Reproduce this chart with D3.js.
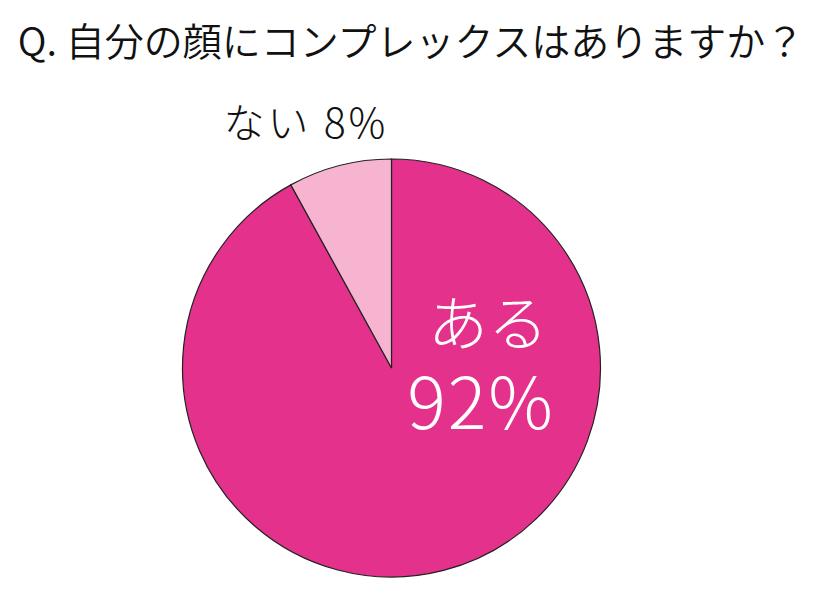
<!DOCTYPE html>
<html><head><meta charset="utf-8">
<script src="https://cdn.jsdelivr.net/npm/d3@7"></script>
<style>html,body{margin:0;padding:0;background:#fff;}</style>
</head><body>
<svg id="c" width="826" height="597"></svg>
<script>
const title = "Q. 自分の顔にコンプレックスはありますか？";
const categories = ["ある", "ない"];
const values = [92, 8];
const colors = ["#e4318b", "#f6b4d1"];

const svg = d3.select("#c");
const font = "'Noto Sans CJK JP', 'Noto Sans', sans-serif";
const cx = 391.5, cy = 368, r = 209;

svg.append("text").attr("x", 411).attr("y", 56).attr("text-anchor", "middle")
  .attr("font-family", font).attr("font-size", 39).attr("font-weight", 350)
  .attr("fill", "#111").text(title);

const data = categories.map((c, i) => ({cat: c, val: values[i], color: colors[i]}));
const pie = d3.pie().value(d => d.val).sort(null);
const arc = d3.arc().innerRadius(0).outerRadius(r);
const g = svg.append("g").attr("transform", `translate(${cx},${cy})`);
const arcs = pie(data);
g.selectAll("path").data(arcs).join("path")
  .attr("d", arc).attr("fill", d => d.data.color)
  .attr("stroke", "#222").attr("stroke-width", 1.2);

// label for "ある" inside (one text, two lines)
const inner = svg.append("text").attr("text-anchor", "middle")
  .attr("font-family", font).attr("font-weight", 300).attr("fill", "#fff");
inner.append("tspan").attr("x", 488).attr("y", 346).attr("font-size", 60)
  .text(categories[0]);
inner.append("tspan").attr("x", 481).attr("y", 429).attr("font-size", 72)
  .attr("letter-spacing", 2).text(values[0] + "%");
// label for "ない" outside
svg.append("text").attr("x", 306).attr("y", 138).attr("text-anchor", "middle")
  .attr("font-family", font).attr("font-size", 41).attr("font-weight", 300).attr("fill", "#111")
  .attr("letter-spacing", 3)
  .text(categories[1] + " " + values[1] + "%");
</script>
</body></html>
